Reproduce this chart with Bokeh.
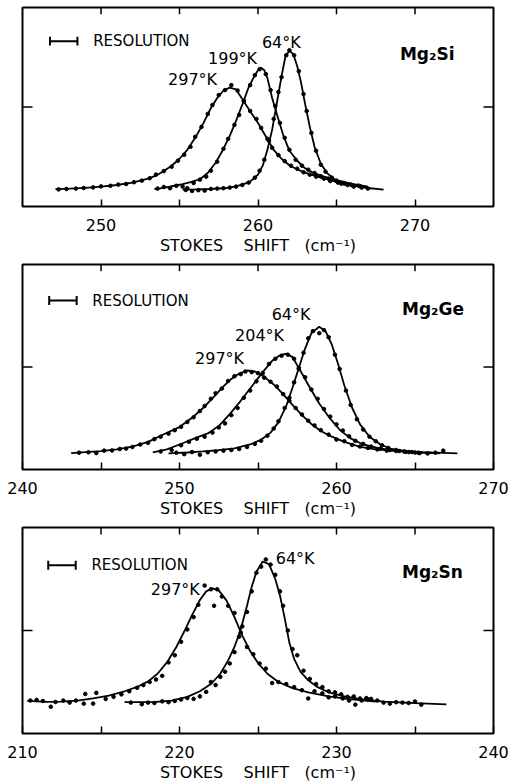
from bokeh.plotting import figure
from bokeh.models import LinearAxis, FixedTicker, Range1d, Label
from bokeh.layouts import column
from bokeh.embed import file_html
from bokeh.resources import INLINE

FONT = "DejaVu Sans"
NB = "\u00a0"
AXIS_TITLE = "STOKES" + NB * 4 + "SHIFT" + NB * 3 + "(cm⁻¹)"
RES_WIDTH = 1.75  # resolution bar width, cm^-1
FRAME_W = 471     # frame width in px (512 - borders)

# ---------------- Mg2Si ----------------
si_xrange = (245, 275)
si_major = [250, 260, 270]
si_minor = [255, 265]

si297_fit_x = [247.1, 248.0, 249.0, 250.0, 251.0, 252.0, 253.0, 253.5, 254.0, 254.5, 255.0, 255.5, 256.0, 256.5,
               257.0, 257.4, 257.8, 258.2, 258.6, 259.0, 259.5, 260.0, 260.5, 261.0, 261.5, 262.0, 262.5, 263.0,
               264.0, 265.0, 266.0, 267.0]
si297_fit_y = [0.087, 0.090, 0.094, 0.100, 0.108, 0.120, 0.140, 0.155, 0.178, 0.205, 0.240, 0.285, 0.345, 0.415,
               0.495, 0.545, 0.583, 0.597, 0.588, 0.540, 0.478, 0.420, 0.352, 0.285, 0.240, 0.207, 0.186, 0.170,
               0.145, 0.124, 0.108, 0.097]
si199_fit_x = [253.4, 254.0, 254.6, 255.2, 255.7, 256.3, 256.8, 257.3, 257.7, 258.2, 258.6, 259.0, 259.4, 259.8,
               260.0, 260.2, 260.4, 260.6, 260.9, 261.3, 261.6, 262.0, 262.5, 263.0, 263.5, 264.0, 265.0, 266.0, 267.0]
si199_fit_y = [0.087, 0.094, 0.103, 0.112, 0.122, 0.137, 0.168, 0.220, 0.275, 0.355, 0.430, 0.512, 0.598, 0.660,
               0.685, 0.697, 0.685, 0.645, 0.545, 0.438, 0.360, 0.280, 0.230, 0.192, 0.170, 0.155, 0.132, 0.114, 0.100]
si64_fit_x = [255.2, 256.0, 257.0, 258.0, 258.5, 259.0, 259.5, 260.0, 260.3, 260.6, 260.9, 261.2, 261.5, 261.75,
              262.0, 262.25, 262.5, 262.75, 263.0, 263.3, 263.6, 264.0, 264.4, 265.0, 265.9, 267.0, 268.0]
si64_fit_y = [0.085, 0.086, 0.088, 0.093, 0.100, 0.110, 0.125, 0.160, 0.205, 0.285, 0.385, 0.520, 0.655, 0.755,
              0.783, 0.765, 0.705, 0.620, 0.515, 0.400, 0.300, 0.215, 0.168, 0.128, 0.108, 0.093, 0.085]

si297_pts_x = [247.3, 247.8, 248.4, 248.9, 249.5, 250.0, 250.6, 251.1, 251.6, 252.1, 252.6, 253.1, 253.5, 254.0,
               254.5, 254.9, 255.3, 255.7, 256.0, 256.4, 256.8, 257.1, 257.5, 257.9, 258.3, 258.7, 259.1, 259.5,
               259.9, 260.2, 260.6, 260.9, 261.3, 261.7, 262.1, 262.5, 262.9, 263.3, 263.7, 264.2, 264.6, 265.1,
               265.5, 266.0, 266.5]
si297_pts_y = [0.086, 0.088, 0.090, 0.093, 0.096, 0.101, 0.104, 0.110, 0.113, 0.122, 0.130, 0.142, 0.160, 0.178,
               0.200, 0.230, 0.260, 0.300, 0.350, 0.400, 0.465, 0.510, 0.560, 0.585, 0.610, 0.583, 0.530, 0.480,
               0.440, 0.395, 0.340, 0.295, 0.258, 0.228, 0.205, 0.190, 0.172, 0.160, 0.150, 0.140, 0.128, 0.120,
               0.115, 0.107, 0.102]
si199_pts_x = [253.6, 254.0, 254.4, 254.8, 255.2, 255.5, 255.9, 256.3, 256.7, 257.0, 257.4, 257.8, 258.1, 258.5,
               258.8, 259.1, 259.5, 259.8, 260.1, 260.5, 260.8, 261.1, 261.4, 261.7, 262.0, 262.4, 262.8, 263.2,
               263.6, 264.0, 264.5, 265.0, 265.4, 265.9, 266.4]
si199_pts_y = [0.090, 0.098, 0.092, 0.104, 0.100, 0.092, 0.118, 0.135, 0.150, 0.180, 0.225, 0.290, 0.340, 0.410,
               0.460, 0.530, 0.610, 0.660, 0.690, 0.665, 0.585, 0.505, 0.420, 0.345, 0.285, 0.235, 0.205, 0.185,
               0.168, 0.152, 0.140, 0.128, 0.118, 0.110, 0.105]
si64_pts_x = [255.4, 255.8, 256.2, 256.6, 257.0, 257.4, 257.8, 258.2, 258.6, 259.0, 259.4, 259.8, 260.1, 260.4,
              260.7, 261.0, 261.3, 261.5, 261.8, 262.0, 262.3, 262.6, 262.9, 263.1, 263.4, 263.7, 264.0, 264.3,
              264.7, 265.0, 265.3, 265.7, 266.1, 266.6, 267.0]
si64_pts_y = [0.083, 0.078, 0.082, 0.080, 0.088, 0.090, 0.092, 0.095, 0.100, 0.108, 0.120, 0.145, 0.180, 0.235,
              0.330, 0.440, 0.575, 0.650, 0.760, 0.785, 0.760, 0.680, 0.565, 0.480, 0.370, 0.280, 0.210, 0.175,
              0.145, 0.130, 0.115, 0.108, 0.100, 0.095, 0.090]

# ---------------- Mg2Ge ----------------
ge_xrange = (240, 270)
ge_major = [240, 250, 260, 270]
ge_minor = [245, 255, 265]

ge297_fit_x = [243.1, 244.0, 245.0, 246.0, 247.0, 248.0, 249.0, 250.0, 250.8, 251.5, 252.2, 252.8, 253.3, 253.8,
               254.3, 254.8, 255.4, 256.0, 256.6, 257.2, 257.8, 258.4, 259.0, 259.7, 260.5, 261.5, 262.5, 264.0,
               265.5, 267.7]
ge297_fit_y = [0.080, 0.085, 0.090, 0.098, 0.112, 0.135, 0.172, 0.207, 0.252, 0.300, 0.355, 0.405, 0.442, 0.468,
               0.483, 0.478, 0.452, 0.415, 0.368, 0.315, 0.265, 0.222, 0.188, 0.160, 0.135, 0.110, 0.098, 0.090,
               0.085, 0.079]
ge204_fit_x = [248.3, 249.2, 250.2, 251.0, 251.8, 252.5, 253.2, 253.9, 254.6, 255.3, 255.9, 256.4, 256.8, 257.2,
               257.7, 258.3, 258.9, 259.6, 260.2, 260.9, 261.7, 262.6, 263.5, 264.5, 265.5, 266.5]
ge204_fit_y = [0.083, 0.098, 0.128, 0.153, 0.176, 0.212, 0.270, 0.335, 0.405, 0.475, 0.530, 0.557, 0.565, 0.548,
               0.482, 0.400, 0.322, 0.248, 0.194, 0.152, 0.122, 0.105, 0.094, 0.087, 0.083, 0.080]
ge64_fit_x = [249.3, 250.5, 251.5, 252.5, 253.5, 254.5, 255.2, 255.8, 256.3, 256.8, 257.2, 257.6, 258.0, 258.4,
              258.9, 259.3, 259.7, 260.1, 260.5, 261.0, 261.5, 262.1, 262.8, 263.5, 264.5, 265.5, 266.6]
ge64_fit_y = [0.079, 0.083, 0.088, 0.094, 0.103, 0.122, 0.145, 0.180, 0.230, 0.310, 0.400, 0.495, 0.590, 0.665,
              0.696, 0.675, 0.610, 0.515, 0.410, 0.300, 0.220, 0.160, 0.122, 0.100, 0.088, 0.082, 0.079]

ge297_pts_x = [243.6, 244.2, 244.7, 245.2, 245.7, 246.2, 246.6, 247.0, 247.5, 248.0, 248.4, 248.8, 249.3, 249.7,
               250.1, 250.5, 250.9, 251.3, 251.6, 252.0, 252.3, 252.7, 253.1, 253.5, 253.9, 254.2, 254.6, 255.0,
               255.4, 255.8, 256.2, 256.6, 257.0, 257.4, 257.8, 258.2, 258.6, 259.0, 259.5, 260.0, 260.5, 261.0,
               261.5, 262.0, 262.6, 263.2, 263.8, 264.4, 265.0]
ge297_pts_y = [0.082, 0.084, 0.080, 0.092, 0.093, 0.100, 0.102, 0.110, 0.122, 0.130, 0.148, 0.160, 0.175, 0.192,
               0.208, 0.232, 0.255, 0.285, 0.310, 0.345, 0.372, 0.395, 0.432, 0.455, 0.465, 0.478, 0.475, 0.470,
               0.448, 0.428, 0.405, 0.368, 0.335, 0.300, 0.268, 0.238, 0.215, 0.192, 0.170, 0.146, 0.138, 0.120,
               0.112, 0.105, 0.098, 0.092, 0.090, 0.086, 0.083]
ge204_pts_x = [248.8, 249.5, 250.1, 250.6, 251.1, 251.6, 252.1, 252.5, 252.9, 253.3, 253.7, 254.1, 254.5, 254.9,
               255.3, 255.7, 256.1, 256.5, 256.9, 257.3, 257.6, 258.0, 258.4, 258.8, 259.2, 259.6, 260.0, 260.4,
               260.8, 261.2, 261.7, 262.2, 262.8, 263.4, 264.0, 264.6, 265.2]
ge204_pts_y = [0.088, 0.095, 0.118, 0.135, 0.150, 0.160, 0.180, 0.205, 0.225, 0.265, 0.300, 0.350, 0.385, 0.430,
               0.470, 0.515, 0.540, 0.555, 0.560, 0.540, 0.495, 0.450, 0.390, 0.345, 0.295, 0.258, 0.220, 0.190,
               0.162, 0.140, 0.125, 0.112, 0.102, 0.095, 0.090, 0.085, 0.082]
ge64_pts_x = [249.8, 250.3, 250.8, 251.3, 251.8, 252.3, 252.8, 253.3, 253.8, 254.3, 254.8, 255.2, 255.6, 256.0,
              256.3, 256.7, 257.0, 257.3, 257.6, 257.9, 258.2, 258.5, 258.9, 259.2, 259.5, 259.9, 260.2, 260.6,
              260.9, 261.3, 261.7, 262.1, 262.5, 262.9, 263.3, 263.8, 264.3, 264.8, 265.3, 265.8, 266.3, 266.8]
ge64_pts_y = [0.082, 0.075, 0.085, 0.072, 0.084, 0.088, 0.092, 0.095, 0.100, 0.110, 0.125, 0.140, 0.165, 0.200,
              0.235, 0.300, 0.350, 0.425, 0.490, 0.570, 0.640, 0.675, 0.665, 0.680, 0.645, 0.560, 0.490, 0.385,
              0.315, 0.245, 0.195, 0.160, 0.138, 0.118, 0.105, 0.095, 0.088, 0.085, 0.080, 0.078, 0.082, 0.092]

# ---------------- Mg2Sn ----------------
sn_xrange = (210, 240)
sn_major = [210, 220, 230, 240]
sn_minor = [215, 225, 235]

sn297_fit_x = [210.3, 211.5, 212.5, 213.5, 214.5, 215.5, 216.5, 217.3, 218.0, 218.6, 219.2, 219.8, 220.3, 220.8,
               221.3, 221.7, 222.1, 222.5, 223.0, 223.5, 224.0, 224.5, 225.0, 225.6, 226.3, 227.2, 228.2, 229.5,
               230.8, 232.5]
sn297_fit_y = [0.158, 0.154, 0.155, 0.160, 0.170, 0.184, 0.205, 0.226, 0.253, 0.290, 0.345, 0.420, 0.495, 0.575,
               0.648, 0.690, 0.705, 0.695, 0.645, 0.565, 0.475, 0.400, 0.342, 0.290, 0.250, 0.220, 0.200, 0.180,
               0.167, 0.155]
sn64_fit_x = [216.5, 217.5, 218.5, 219.5, 220.5, 221.3, 222.0, 222.6, 223.1, 223.5, 223.9, 224.3, 224.6, 224.9,
              225.3, 225.7, 226.1, 226.4, 226.7, 227.0, 227.3, 227.7, 228.2, 228.8, 229.5, 230.5, 231.5, 233.0,
              235.0, 237.0]
sn64_fit_y = [0.152, 0.152, 0.154, 0.160, 0.178, 0.205, 0.240, 0.290, 0.355, 0.420, 0.505, 0.620, 0.712, 0.785,
              0.835, 0.822, 0.750, 0.670, 0.560, 0.440, 0.362, 0.300, 0.258, 0.225, 0.200, 0.180, 0.167, 0.155,
              0.147, 0.141]

sn297_pts_x = [210.5, 210.9, 211.3, 211.8, 212.1, 212.6, 213.0, 213.4, 213.9, 214.0, 214.5, 214.7, 215.3, 215.8,
               216.3, 216.8, 217.3, 217.7, 218.1, 218.5, 218.9, 219.3, 219.7, 220.1, 220.5, 220.9, 221.2, 221.6,
               222.0, 222.2, 222.4, 222.7, 223.1, 223.5, 223.9, 224.3, 224.7, 225.1, 225.5, 225.9, 226.3, 226.8,
               227.3, 227.8, 228.2, 228.6, 229.1, 229.5, 229.9, 230.4, 230.8, 231.2, 231.6, 232.0]
sn297_pts_y = [0.160, 0.163, 0.158, 0.130, 0.153, 0.160, 0.150, 0.160, 0.145, 0.192, 0.145, 0.197, 0.168, 0.178,
               0.190, 0.205, 0.222, 0.235, 0.250, 0.262, 0.280, 0.345, 0.380, 0.445, 0.505, 0.565, 0.625, 0.718,
               0.700, 0.620, 0.700, 0.665, 0.620, 0.585, 0.490, 0.420, 0.385, 0.340, 0.315, 0.245, 0.250, 0.240,
               0.225, 0.210, 0.170, 0.205, 0.195, 0.175, 0.180, 0.170, 0.160, 0.140, 0.160, 0.165]
sn64_pts_x = [216.9, 217.6, 218.0, 218.4, 218.9, 219.3, 219.7, 220.1, 220.5, 220.9, 221.3, 221.7, 222.0, 222.3,
              222.6, 222.9, 223.2, 223.5, 223.8, 224.0, 224.3, 224.6, 224.9, 225.2, 225.5, 225.8, 226.1, 226.4,
              226.6, 226.9, 227.2, 227.5, 227.9, 228.3, 228.7, 229.1, 229.5, 229.9, 230.3, 230.7, 231.1, 231.5,
              231.9, 232.2, 232.6, 233.0, 233.4, 233.8, 234.2, 234.6, 235.0, 235.4]
sn64_pts_y = [0.150, 0.142, 0.150, 0.148, 0.156, 0.152, 0.158, 0.165, 0.172, 0.168, 0.180, 0.202, 0.250, 0.235,
              0.275, 0.300, 0.340, 0.395, 0.470, 0.520, 0.590, 0.690, 0.780, 0.810, 0.845, 0.820, 0.770, 0.690,
              0.620, 0.500, 0.410, 0.380, 0.305, 0.265, 0.240, 0.225, 0.205, 0.200, 0.190, 0.178, 0.180, 0.170,
              0.172, 0.168, 0.160, 0.150, 0.145, 0.152, 0.150, 0.148, 0.155, 0.140]


def make_panel(xrange, major, minor, fits, points, temp_labels, compound, comp_pos, res_pos, height, bottom):
    frame_h = height - 7 - bottom
    p = figure(width=512, height=height, x_range=Range1d(*xrange), y_range=Range1d(0, 1),
               output_backend="svg", toolbar_location=None,
               x_axis_location=None, y_axis_location=None,
               min_border_left=22, min_border_right=19, min_border_top=7, min_border_bottom=bottom)
    p.grid.grid_line_color = None
    p.outline_line_color = "black"
    p.outline_line_width = 2
    p.background_fill_color = "white"
    p.border_fill_color = "white"

    ax = LinearAxis(ticker=FixedTicker(ticks=major, minor_ticks=minor))
    ax.axis_line_color = None
    ax.major_tick_in = 7
    ax.major_tick_out = 0
    ax.minor_tick_in = 7
    ax.minor_tick_out = 0
    ax.major_tick_line_width = 1.5
    ax.minor_tick_line_width = 1.5
    ax.major_tick_line_color = "black"
    ax.minor_tick_line_color = "black"
    ax.major_label_text_font = FONT
    ax.major_label_text_font_size = "16px"
    ax.major_label_text_color = "black"
    ax.major_label_standoff = 12
    ax.axis_label = AXIS_TITLE
    ax.axis_label_text_font = FONT
    ax.axis_label_text_font_size = "16px"
    ax.axis_label_text_font_style = "normal"
    ax.axis_label_text_color = "black"
    ax.axis_label_standoff = 2
    p.add_layout(ax, "below")

    # inward ticks on top frame edge and at mid-height on both sides
    x_span = xrange[1] - xrange[0]
    top_ticks = [t for t in sorted(major + minor) if xrange[0] < t < xrange[1]]
    tick_h = 7.0 / frame_h
    p.segment(x0=top_ticks, y0=[1.0] * len(top_ticks), x1=top_ticks, y1=[1.0 - tick_h] * len(top_ticks),
              line_color="black", line_width=1.5)
    side_len = 10.0 * x_span / FRAME_W
    p.segment(x0=[xrange[0], xrange[1]], y0=[0.5, 0.5], x1=[xrange[0] + side_len, xrange[1] - side_len],
              y1=[0.5, 0.5], line_color="black", line_width=1.5)

    for fx, fy in fits:
        p.line(fx, fy, line_color="black", line_width=1.8)
    for px, py in points:
        p.scatter(px, py, size=3.6, fill_color="black", line_color="black")

    # resolution bar
    rx, ry = res_pos
    cap = 0.022
    p.multi_line([[rx, rx + RES_WIDTH], [rx, rx], [rx + RES_WIDTH, rx + RES_WIDTH]],
                 [[ry, ry], [ry - cap, ry + cap], [ry - cap, ry + cap]],
                 line_color="black", line_width=2)
    p.add_layout(Label(x=rx + RES_WIDTH + 1.0, y=ry, text="RESOLUTION", text_font=FONT,
                       text_font_size="15px", text_color="black", text_baseline="middle"))
    for (tx, ty, tt) in temp_labels:
        p.add_layout(Label(x=tx, y=ty, text=tt, text_font=FONT, text_font_size="16px",
                           text_color="black", text_baseline="middle"))
    cx, cy = comp_pos
    p.add_layout(Label(x=cx, y=cy, text=compound, text_font=FONT, text_font_size="17px",
                       text_font_style="bold", text_color="black", text_baseline="middle"))
    return p


p1 = make_panel(si_xrange, si_major, si_minor,
                [(si297_fit_x, si297_fit_y), (si199_fit_x, si199_fit_y), (si64_fit_x, si64_fit_y)],
                [(si297_pts_x, si297_pts_y), (si199_pts_x, si199_pts_y), (si64_pts_x, si64_pts_y)],
                [(260.25, 0.826, "64°K"), (256.82, 0.744, "199°K"), (254.27, 0.638, "297°K")],
                "Mg₂Si", (269.04, 0.768), (246.75, 0.831), 257, 43)
p2 = make_panel(ge_xrange, ge_major, ge_minor,
                [(ge297_fit_x, ge297_fit_y), (ge204_fit_x, ge204_fit_y), (ge64_fit_x, ge64_fit_y)],
                [(ge297_pts_x, ge297_pts_y), (ge204_pts_x, ge204_pts_y), (ge64_pts_x, ge64_pts_y)],
                [(255.87, 0.757, "64°K"), (253.54, 0.652, "204°K"), (250.99, 0.543, "297°K")],
                "Mg₂Ge", (264.17, 0.781), (241.7, 0.824), 263, 46)
p3 = make_panel(sn_xrange, sn_major, sn_minor,
                [(sn297_fit_x, sn297_fit_y), (sn64_fit_x, sn64_fit_y)],
                [(sn297_pts_x, sn297_pts_y), (sn64_pts_x, sn64_pts_y)],
                [(226.13, 0.851, "64°K"), (218.17, 0.697, "297°K")],
                "Mg₂Sn", (234.17, 0.784), (211.64, 0.817), 264, 49)

layout = column(p1, p2, p3, spacing=0)
open("out.html", "w").write(file_html(layout, INLINE, title="Stokes shift"))
